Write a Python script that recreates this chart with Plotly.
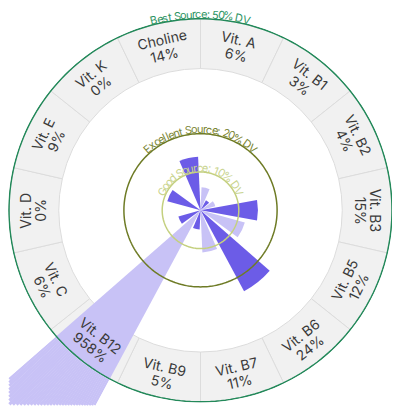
import numpy as np
import plotly.graph_objects as go

# nutrient wheel - % daily value per serving
nutrients = ["Vit. A", "Vit. B1", "Vit. B2", "Vit. B3", "Vit. B5", "Vit. B6", "Vit. B7",
             "Vit. B9", "Vit. B12", "Vit. C", "Vit. D", "Vit. E", "Vit. K", "Choline"]
dv_pct = [6, 3, 4, 15, 12, 24, 11, 5, 958, 6, 0, 9, 0, 14]

# reference circles
levels = [10, 20, 50]
level_names = ["Good Source: 10% DV", "Excellent Source: 20% DV", "Best Source: 50% DV"]

# styles
DARK = "#6c5ce7"
LIGHT = "#c8c2f6"
level_colors = ["#c4d07f", "#6e7b25", "#23895a"]
level_text_colors = ["#c9d48f", "#7a8533", "#2e9463"]
FONT = "Inter"
W, H = 400, 412
PAGE = 8                               # default body margin of the html page
CX, CY = 200.5 - PAGE, 210.3 - PAGE    # wheel centre in figure px
BOTTOM = 406 - PAGE                    # lowest px the runaway bar may reach
R_DISK = 192.5
PX = 3.83                              # px per 1% DV
RING_IN, RING_OUT = 37, 50
BAR_FRAC = 0.8
PIECES = 36

n = len(nutrients)
step = 360 / n
theta = [step * (i + 0.5) for i in range(n)]
bar_cols = [LIGHT if i % 2 == 0 else DARK for i in range(n)]


def paper(r_px, ang):
    a = np.radians(ang)
    return (CX + r_px * np.sin(a)) / W, (H - CY + r_px * np.cos(a)) / H


def char_w(c):
    if c in " .:":
        return 0.28
    if c in "ilj":
        return 0.26
    if c in "tfr":
        return 0.37
    if c == "%":
        return 0.82
    if c in "GDVO":
        return 0.72
    if c.isupper():
        return 0.63
    if c.isdigit():
        return 0.6
    return 0.54


fig = go.Figure()
layout_polars = {}
hidden = dict(rotation=90, direction="clockwise", visible=False)

# --- back subplots: thin sectors around the biggest bar so it can run off the wheel
# (a polar subplot clips to its own disk, a narrow sector can have a much bigger radius)
big = int(np.argmax(dv_pct))
edges = np.linspace(theta[big] - step * BAR_FRAC / 2, theta[big] + step * BAR_FRAC / 2, PIECES + 1)
for k in range(PIECES):
    m0 = 90 - (edges[k + 1] + 0.05) + 360
    m1 = 90 - (edges[k] - 0.05) + 360
    cs = [np.cos(np.radians(m0)), np.cos(np.radians(m1))]
    sn = [np.sin(np.radians(m0)), np.sin(np.radians(m1))]
    bx0, bx1 = min(0, *cs), max(0, *cs)
    by0, by1 = min(0, *sn), max(0, *sn)
    lims = []
    if bx0 < 0: lims.append(CX / -bx0)
    if bx1 > 0: lims.append((W - CX) / bx1)
    if by0 < 0: lims.append((BOTTOM - CY) / -by0)
    if by1 > 0: lims.append(CY / by1)
    rk = min(lims) - 0.3
    sp = "polar" if k == 0 else f"polar{k + 1}"
    fig.add_trace(go.Barpolar(
        r=dv_pct, theta=theta, width=[step * BAR_FRAC] * n, subplot=sp,
        marker=dict(color=bar_cols, line=dict(width=0)), hoverinfo="skip"))
    layout_polars[sp] = dict(
        domain=dict(x=[(CX + bx0 * rk) / W, (CX + bx1 * rk) / W],
                    y=[(H - CY + by0 * rk) / H, (H - CY + by1 * rk) / H]),
        sector=[m0, m1], bgcolor="rgba(0,0,0,0)",
        radialaxis=dict(range=[0, rk / PX], visible=False),
        angularaxis=hidden)

# --- main wheel
main = f"polar{PIECES + 1}"
layout_polars[main] = dict(
    domain=dict(x=[(CX - R_DISK) / W, (CX + R_DISK) / W],
                y=[(H - CY - R_DISK) / H, (H - CY + R_DISK) / H]),
    bgcolor="white",
    radialaxis=dict(range=[0, R_DISK / PX], visible=False),
    angularaxis=hidden)

# outer label ring
fig.add_trace(go.Barpolar(
    r=[RING_OUT - RING_IN] * n, theta=theta, base=RING_IN, width=[step] * n, subplot=main,
    marker=dict(color="#f1f1f1", line=dict(color="#dcdcdc", width=1)),
    hoverinfo="skip"))

# value bars
fig.add_trace(go.Barpolar(
    r=dv_pct, theta=theta, width=[step * BAR_FRAC] * n, subplot=main,
    marker=dict(color=bar_cols, line=dict(width=0)),
    hovertext=nutrients, hoverinfo="text+r"))

# reference circles
circ = np.linspace(0, 360, 241)
for lvl, col in zip(levels, level_colors):
    fig.add_trace(go.Scatterpolar(
        r=[lvl] * len(circ), theta=circ, mode="lines", subplot=main,
        line=dict(color=col, width=1.5), hoverinfo="skip"))

# ring labels
r_lab = (RING_IN + RING_OUT) / 2 * PX + 1
for name, val, t in zip(nutrients, dv_pct, theta):
    a = t - 360 if t > 180 else t
    if a > 90:
        rot = a - 180
    elif a < -90:
        rot = a + 180
    else:
        rot = a
    x, y = paper(r_lab, t)
    d = 7.5
    dx = d * np.sin(np.radians(rot)) / W
    dy = d * np.cos(np.radians(rot)) / H
    for txt, sx, sy in [(name, x + dx, y + dy), (f"{val}%", x - dx, y - dy)]:
        fig.add_annotation(x=sx, y=sy, xref="paper", yref="paper", text=txt,
                           textangle=rot, showarrow=False, xanchor="center", yanchor="middle",
                           font=dict(family=FONT, size=14, color="#3a3a3a"))

# curved level labels
size = 11
for lvl, label, col in zip(levels, level_names, level_text_colors):
    r_px = lvl * PX + 4.5
    widths = [char_w(c) * size * 0.93 for c in label]
    pos = -sum(widths) / 2
    for c, w in zip(label, widths):
        ang = np.degrees((pos + w / 2) / r_px)
        pos += w
        if c == " ":
            continue
        x, y = paper(r_px, ang)
        fig.add_annotation(x=x, y=y, xref="paper", yref="paper", text=c,
                           textangle=ang, showarrow=False, xanchor="center", yanchor="middle",
                           font=dict(family=FONT, size=size, color=col))

fig.update_layout(
    width=W, height=H, margin=dict(l=0, r=0, t=0, b=0),
    paper_bgcolor="white", showlegend=False,
    **layout_polars,
)

fig.write_html("out.html")
